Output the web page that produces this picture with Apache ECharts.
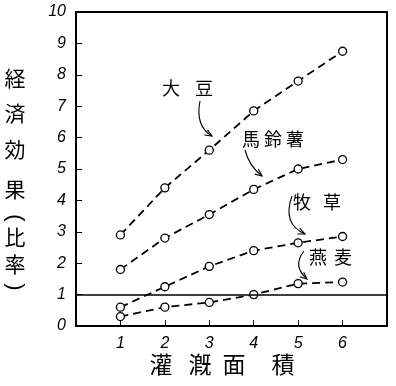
<!DOCTYPE html>
<html><head><meta charset="utf-8">
<script src="https://cdn.jsdelivr.net/npm/echarts@6/dist/echarts.min.js"></script>
<style>html,body{margin:0;padding:0;background:#fff}#c{width:396px;height:386px}</style>
</head><body><div id="c"></div>
<script>
const xValues = [1, 2, 3, 4, 5, 6];
const soybean = [2.9, 4.4, 5.6, 6.85, 7.8, 8.75];
const potato = [1.8, 2.8, 3.55, 4.35, 5.0, 5.3];
const pasture = [0.6, 1.25, 1.9, 2.4, 2.65, 2.85];
const oats = [0.3, 0.6, 0.75, 1.0, 1.35, 1.4];
const xTickLabels = ['1', '2', '3', '4', '5', '6'];
const yTickLabels = ['0','1','2','3','4','5','6','7','8','9','10'];
const seriesNames = ['大豆', '馬鈴薯', '牧草', '燕麦'];
const yTitleChars = ['経', '済', '効', '果', '(', '比', '率', ')'];
const xTitleChars = ['灌', '漑', '面', '積'];

const chart = echarts.init(document.getElementById('c'));
const CJK = '"Noto Sans CJK JP", sans-serif';

function mk(name, vals) {
  return {
    name: name, type: 'line',
    data: xValues.map((x, i) => [x, vals[i]]),
    symbol: 'circle', symbolSize: 8,
    itemStyle: { color: '#fff', borderColor: '#000', borderWidth: 1.3 },
    lineStyle: { color: '#000', width: 1.8, type: [8, 5] },
    z: 3, animation: false
  };
}
const series = [mk(seriesNames[0], soybean), mk(seriesNames[1], potato), mk(seriesNames[2], pasture), mk(seriesNames[3], oats)];
series[3].markLine = {
  silent: true, symbol: 'none', animation: false,
  label: { show: false },
  lineStyle: { color: '#000', width: 1.5, type: 'solid' },
  data: [{ yAxis: 1 }]
};

const graphics = [];
const yPos = [78, 113, 149, 189, 218, 237, 264, 287];
yTitleChars.forEach((ch, i) => {
  const paren = (ch === '(' || ch === ')');
  graphics.push({
    type: 'text', x: 15, y: yPos[i],
    rotation: paren ? -Math.PI / 2 : 0,
    style: { text: ch, font: (paren ? '22px "Liberation Sans"' : '21px ' + CJK), fill: '#000', align: 'center', verticalAlign: 'middle' }
  });
});
const xPos = [161, 200, 234, 283];
xTitleChars.forEach((ch, i) => {
  graphics.push({ type: 'text', x: xPos[i], y: 364, style: { text: ch, font: '23px ' + CJK, fill: '#000', align: 'center', verticalAlign: 'middle' } });
});
const labelChars = [
  [['大', 171, 88], ['豆', 204, 88]],
  [['馬', 251, 139], ['鈴', 273, 139], ['薯', 295, 139]],
  [['牧', 302, 202], ['草', 332, 202]],
  [['燕', 318, 257], ['麦', 343, 257]]
];
labelChars.forEach(group => group.forEach(([ch, x, y]) => {
  graphics.push({ type: 'text', x: x, y: y, style: { text: ch, font: '18px ' + CJK, fill: '#000', align: 'center', verticalAlign: 'middle' } });
}));
const arrows = [
  [[200, 101], [195, 126], [212, 136]],
  [[245, 150], [249, 166], [262, 176]],
  [[292, 196], [282, 224], [305, 234]],
  [[304, 251], [292, 266], [307, 279]]
];
arrows.forEach(([s, c, e]) => {
  graphics.push({ type: 'bezierCurve', shape: { x1: s[0], y1: s[1], cpx1: c[0], cpy1: c[1], x2: e[0], y2: e[1] }, style: { stroke: '#000', fill: null, lineWidth: 1.1 } });
  const dx = e[0] - c[0], dy = e[1] - c[1], L = Math.hypot(dx, dy);
  const ux = dx / L, uy = dy / L, h = 7, w = 3;
  const bx = e[0] - ux * h, by = e[1] - uy * h;
  graphics.push({ type: 'polyline', shape: { points: [[bx - uy * w, by + ux * w], [e[0], e[1]], [bx + uy * w, by - ux * w]] }, style: { stroke: '#000', fill: null, lineWidth: 1.1 } });
});

const frameAxis = { show: true, axisLine: { show: true, onZero: false, lineStyle: { color: '#000', width: 2 } }, axisTick: { show: false }, axisLabel: { show: false }, splitLine: { show: false } };

chart.setOption({
  animation: false,
  backgroundColor: '#fff',
  grid: { left: 76, right: 9, top: 12, bottom: 60 },
  xAxis: [{
    type: 'value', min: 0, max: 7, interval: 1, position: 'bottom',
    axisLine: { show: true, onZero: false, lineStyle: { color: '#000', width: 2 } },
    axisTick: { show: true, inside: true, length: 6, lineStyle: { color: '#000', width: 1 } },
    splitLine: { show: false },
    axisLabel: {
      margin: 10, color: '#000', fontSize: 16, fontStyle: 'italic', fontFamily: 'Liberation Sans',
      formatter: v => (v >= 1 && v <= 6) ? xTickLabels[v - 1] : ''
    }
  }, Object.assign({ type: 'value', min: 0, max: 7, position: 'top' }, frameAxis)],
  yAxis: [{
    type: 'value', min: 0, max: 10, interval: 1, position: 'left',
    axisLine: { show: true, onZero: false, lineStyle: { color: '#000', width: 2 } },
    axisTick: { show: true, inside: true, length: 6, lineStyle: { color: '#000', width: 1 } },
    splitLine: { show: false },
    axisLabel: {
      margin: 10, color: '#000', fontSize: 16, fontStyle: 'italic', fontFamily: 'Liberation Sans',
      formatter: v => yTickLabels[Math.round(v)] || ''
    }
  }, Object.assign({ type: 'value', min: 0, max: 10, position: 'right' }, frameAxis)],
  series: series,
  graphic: graphics
});
</script></body></html>
